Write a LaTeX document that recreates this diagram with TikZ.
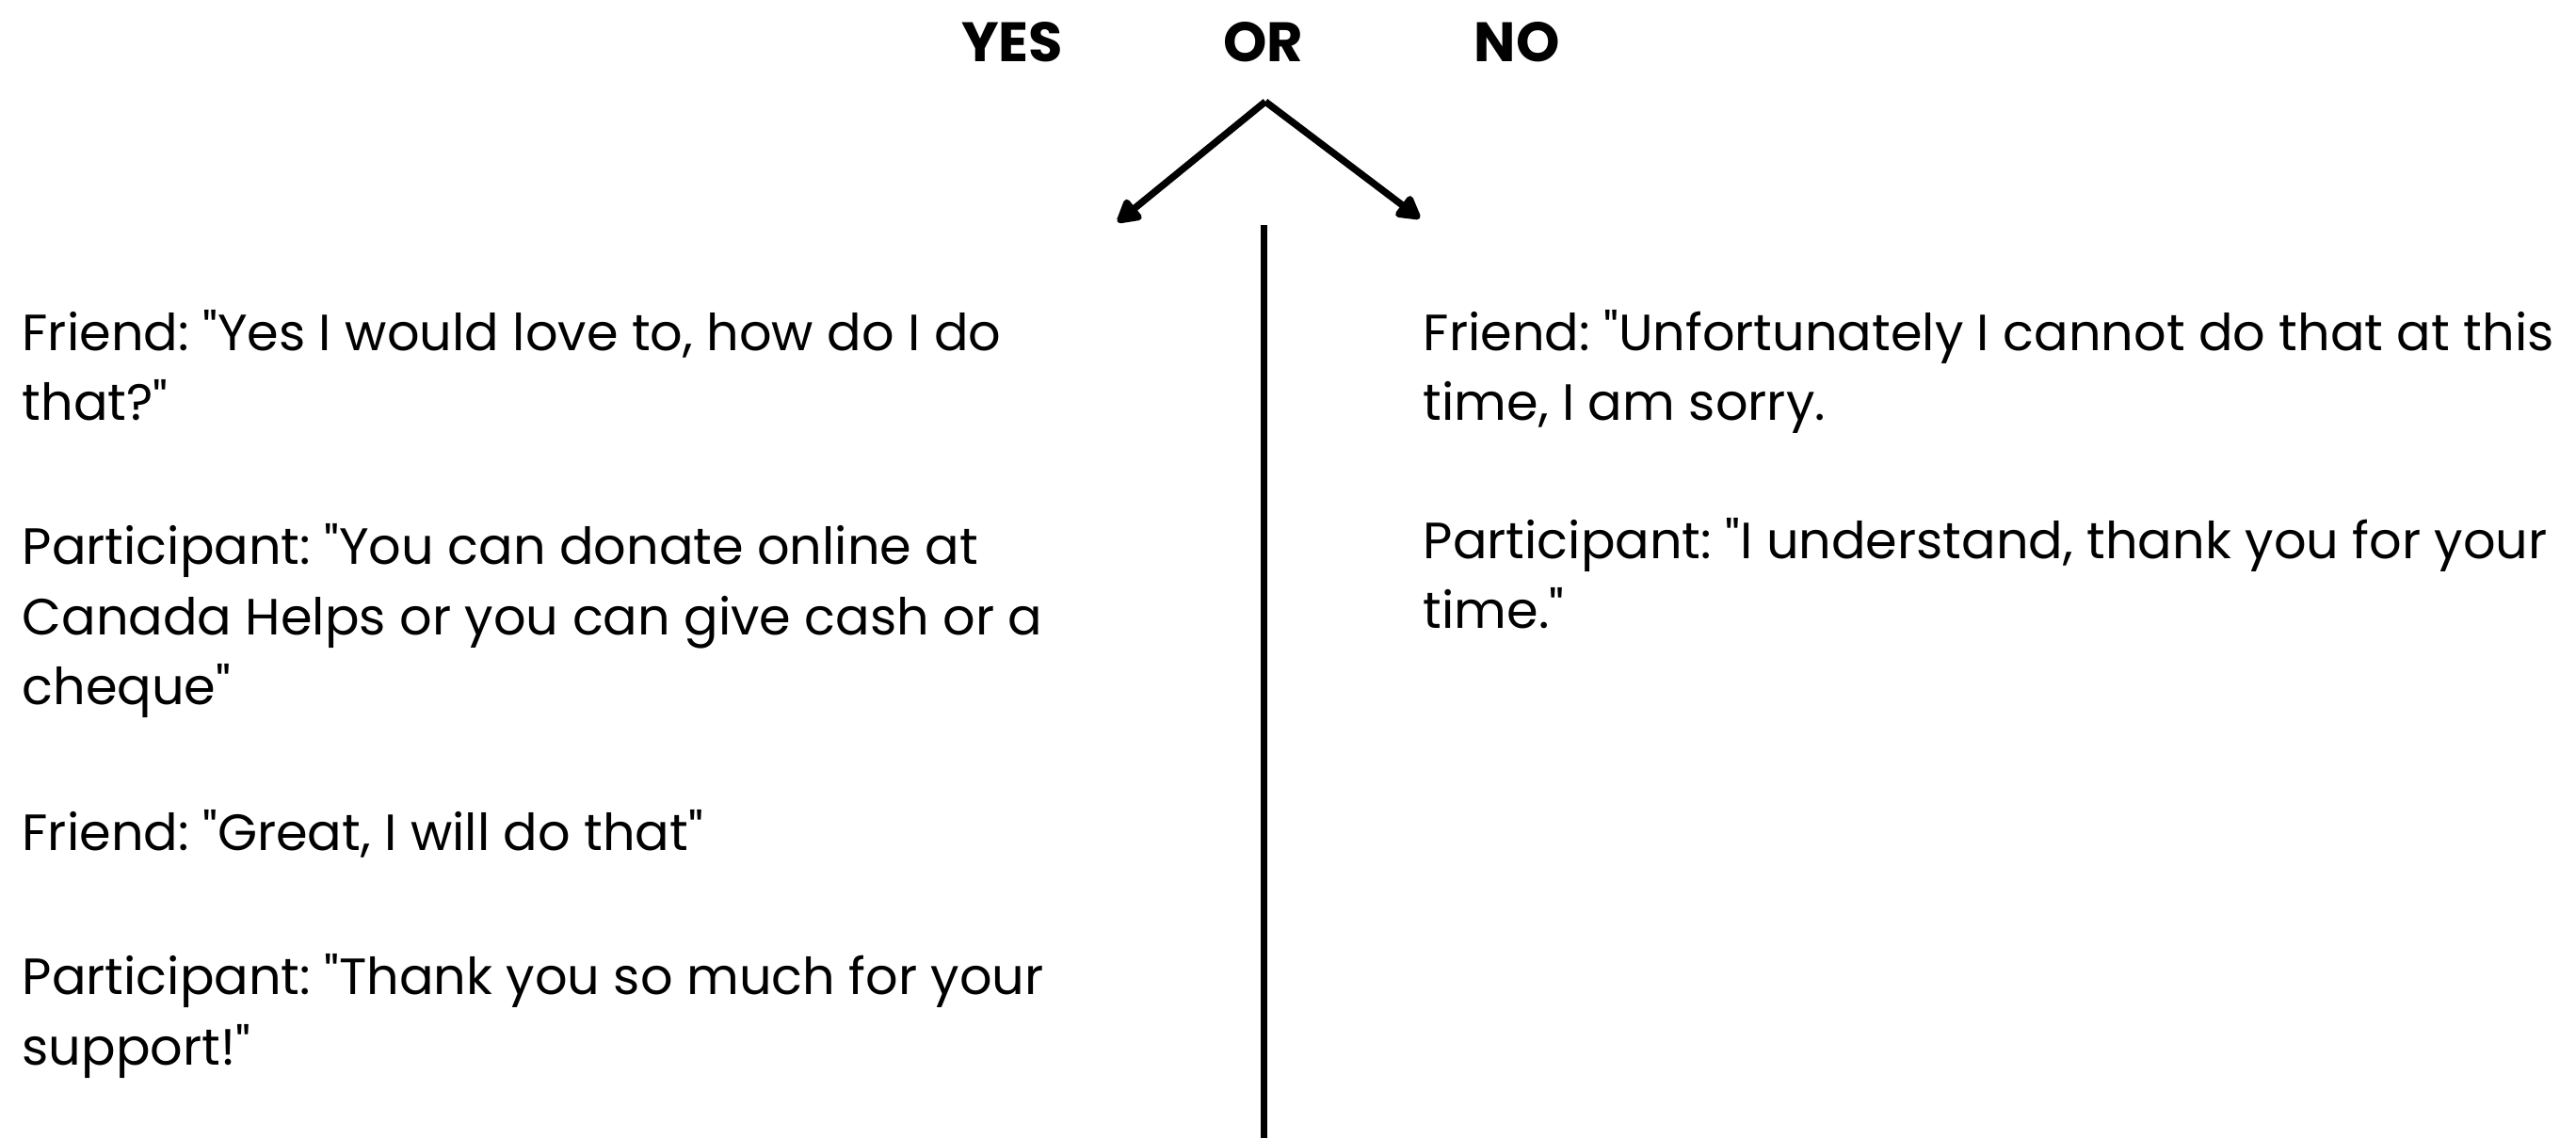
\documentclass[tikz,border=0pt]{standalone}
\usepackage{fontspec}
\setmainfont{Poppins}[Ligatures=TeXOff]
\usepackage{tikz}
\usetikzlibrary{arrows.meta, positioning}
\frenchspacing

\begin{document}
\begin{tikzpicture}[
  head/.style={font=\fontsize{16.8pt}{21.3pt}\selectfont\bfseries, inner sep=0pt, anchor=base},
  talk/.style={font=\fontsize{15.4pt}{21.3pt}\selectfont, align=left, inner sep=0pt, anchor=base west},
  arrow/.style={-{Triangle[length=8pt, width=8.5pt, round]}, line width=2.1pt},
  divider/.style={line width=2pt},
]
  \useasboundingbox (0,0) rectangle (27.36,12.09);

  \node[head] (hdor) at (13.42,11.43) {OR};
  \node[head] (hdyes) at (10.75,11.43) {YES};
  \node[head] (hdno) at (16.11,11.43) {NO};

  \coordinate (split) at (13.44,11.01);
  \coordinate (yestip) at (11.87,9.73);
  \coordinate (notip) at (15.08,9.77);
  \draw[arrow] (split) -- (yestip);
  \draw[arrow] (split) -- (notip);

  \coordinate (divtop) at (13.42,9.70);
  \coordinate (divbot) at (13.42,0);
  \draw[divider] (divtop) -- (divbot);

  \node[talk] (yes1) at (0.23,7.62) {Friend: "Yes I would love to, how do I do\\that?"};
  \node[talk] (yes2) at (0.23,4.60) {Participant: "You can donate online at\\Canada Helps or you can give cash or a\\cheque"};
  \node[talk] (yes3) at (0.23,3.05) {Friend: "Great, I will do that"};
  \node[talk] (yes4) at (0.23,0.78) {Participant: "Thank you so much for your\\support!"};

  \node[talk] (no1) at (15.11,7.62) {Friend: "Unfortunately I cannot do that at this\\time, I am sorry.};
  \node[talk] (no2) at (15.11,5.41) {Participant: "I understand, thank you for your\\time."};
\end{tikzpicture}
\end{document}
